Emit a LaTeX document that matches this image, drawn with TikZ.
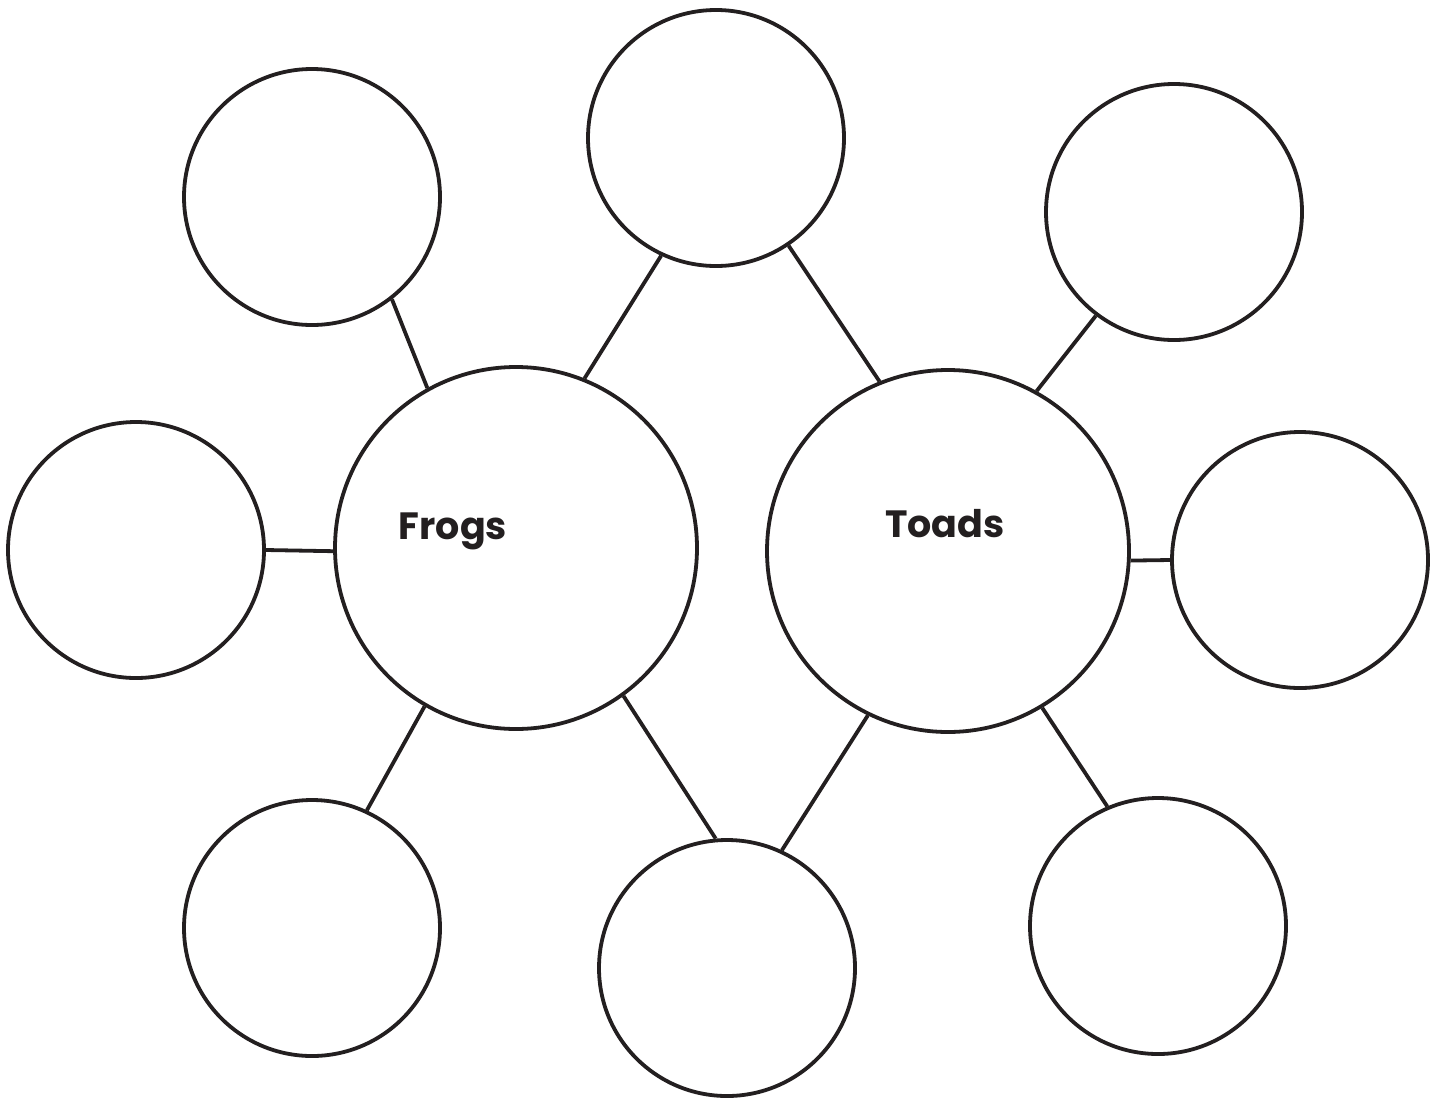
\documentclass[tikz,border=0pt]{standalone}
\usepackage{fontspec}
\setmainfont{Poppins}
\usetikzlibrary{positioning}
\definecolor{ink}{HTML}{231F20}
\tikzset{x=1pt, y=-1pt,
every bubble/.style={ % Sets the properties for each bubble
circle, draw=ink, line width=3.8pt, fill=white, inner sep=0pt},
small bubble/.style={every bubble, minimum size=256pt},
big bubble/.style={every bubble, minimum size=362pt},
title/.style={anchor=base, text=ink, font=\bfseries\fontsize{38}{42}\selectfont},
every edge/.style={ % Sets the properties for each link
draw=ink, line width=3.8pt}}
\begin{document}
\begin{tikzpicture}
\useasboundingbox (0,0) rectangle (1442,1098);
\node[big bubble] (frogs) at (516,548) {};
\node[big bubble] (toads) at (948,551) {};
\node[small bubble] (tm) at (716,138) {};
\node[small bubble] (tl) at (312,197) {};
\node[small bubble] (l) at (136,550) {};
\node[small bubble] (bl) at (312,928) {};
\node[small bubble] (bm) at (727,968) {};
\node[small bubble] (tr) at (1174,212) {};
\node[small bubble] (r) at (1300,560) {};
\node[small bubble] (br) at (1158,926) {};
\node[title] (frogs text) at (453,539) {Frogs};
\node[title] (toads text) at (945,537) {Toads};
\draw (frogs.119) edge (tl.-52);
\draw (frogs.68) edge (tm.-115);
\draw (tm.-56) edge (toads.112);
\draw (toads.61) edge (tr.-127);
\draw (l.0) edge (frogs.181);
\draw (toads.-3) edge (r.180);
\draw (frogs.-120) edge (bl.65);
\draw (frogs.-54) edge (bm.95);
\draw (toads.-116) edge (bm.65);
\draw (toads.-59) edge (br.113);
\end{tikzpicture}
\end{document}
